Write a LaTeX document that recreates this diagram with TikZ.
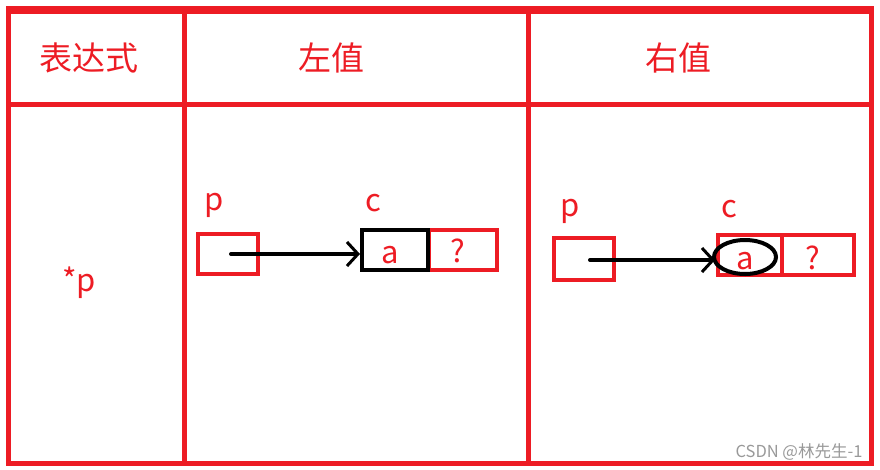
\documentclass[tikz,border=0pt]{standalone}
\usepackage{fontspec}
\setmainfont{Noto Sans CJK SC}
\usetikzlibrary{arrows.meta}
\definecolor{tblred}{RGB}{237,28,36}
\newcommand{\cellchar}[2]{\raisebox{#1}[0pt][0pt]{\hspace*{-10pt}#2}}
\begin{document}
\begin{tikzpicture}[x=1pt, y=-1pt]
        \tikzset{
            grid/.style={draw=tblred, line width=5pt},
            head/.style={text=tblred, font=\fontsize{33}{36}\selectfont},
            letter/.style={text=tblred, font=\fontsize{31}{34}\selectfont},
            cell/.style={
                draw=tblred,
                line width=4pt,
                minimum width=64pt,
                minimum height=40pt,
                inner sep=0pt,
                text=tblred,
                font=\fontsize{31}{34}\selectfont
            },
            pointer/.style={
                draw=black,
                line width=4pt,
                line cap=round,
                -{Straight Barb[length=11pt, width=24pt, line width=3pt]}
            }
        }
        \useasboundingbox (0,0) rectangle (880,469);

        % table frame
        \draw[grid] (8,8) rectangle (871,463);
        \draw[grid, line width=7pt] (8,10) -- (871,10);
        \draw[grid] (8,104) -- (871,104);
        \draw[grid] (184,8) -- (184,463);
        \draw[grid] (528,8) -- (528,463);

        % header
        \node[head] (hexpr) at (89,58) {表达式};
        \node[head] (hleft) at (331,58) {左值};
        \node[head] (hright) at (678,58) {右值};
        \node[letter] (expr) at (79,283) {*p};

        % left value
        \node[letter] (lplabel) at (214,205) {p};
        \node[cell, minimum width=60pt, minimum height=40pt] (lp) at (228,254) {};
        \node[letter] (lclabel) at (373,203) {c};
        \node[cell, minimum width=68pt] (lq) at (463,250) {\cellchar{-12pt}{?}};
        \node[cell, draw=black, minimum width=66pt] (la) at (395,250) {\cellchar{-13pt}{a}};
        \coordinate (lstart) at (231,254);
        \draw[pointer] (lstart) -- (la.west |- lstart);

        % right value
        \node[letter] (rplabel) at (570,211) {p};
        \node[cell, minimum width=60pt, minimum height=42pt] (rp) at (584,259) {};
        \node[letter] (rclabel) at (729,209) {c};
        \node[cell, minimum width=64pt] (ra) at (750,255) {\cellchar{-14pt}{a}};
        \node[cell, minimum width=72pt] (rq) at (818,255) {\cellchar{-14pt}{?}};
        \draw[black, line width=4pt] (745,257) ellipse [x radius=31pt, y radius=17pt];
        \coordinate (rstart) at (590,260);
        \draw[pointer] (rstart) -- (715,260);

        \node[text=black!40, font=\fontsize{16.5}{18}\selectfont, anchor=east] (mark) at (866,452) {CSDN @林先生-1};
\end{tikzpicture}
\end{document}
